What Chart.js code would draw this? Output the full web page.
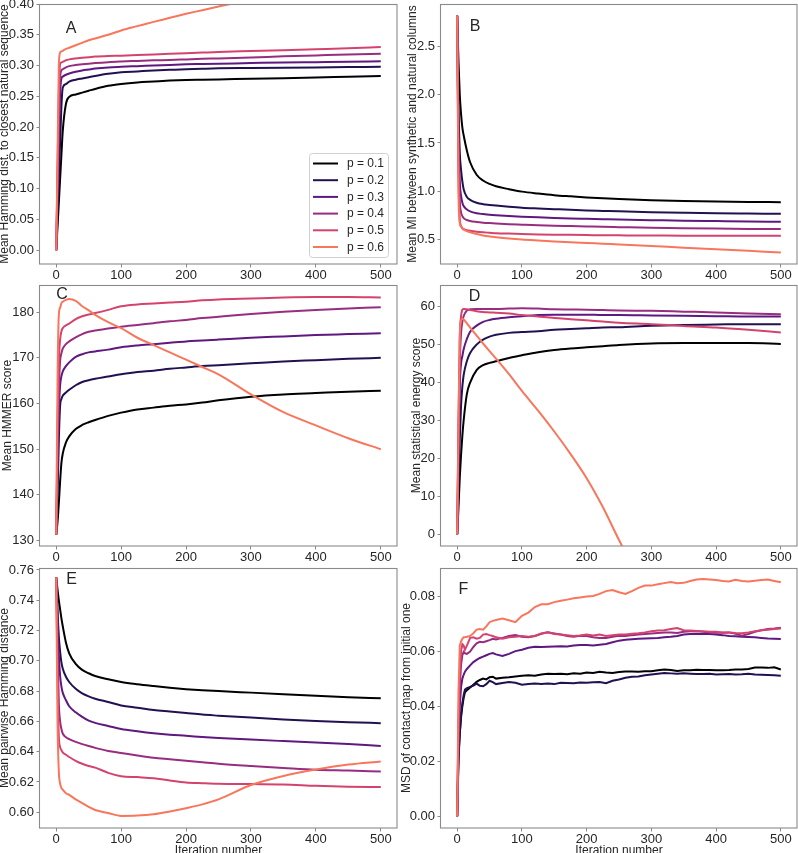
<!DOCTYPE html>
<html><head><meta charset="utf-8">
<script src="https://cdn.jsdelivr.net/npm/chart.js@4.4.0/dist/chart.umd.min.js"></script>
<style>
html,body{margin:0;padding:0;background:#fff;}
#wrap{position:relative;width:798px;height:853px;overflow:hidden;background:#fff;}
#wrap canvas{position:absolute;left:0;top:0;}
</style></head><body><div id="wrap"></div>
<script>
// ---------- data ----------
const seriesLabels = ['p = 0.1','p = 0.2','p = 0.3','p = 0.4','p = 0.5','p = 0.6'];
const xTicks = [0,100,200,300,400,500];
const iterations = [0,2,4,6,8,10,15,20,30,40,50,60,80,100,125,150,175,200,225,250,300,350,400,450,500];
const iterationsF = [0,2,4,6,8,10,12,15,20,25,30,35,40,45,50,55,60,70,80,90,100,110,120,130,140,150,160,170,180,190,200,210,220,230,240,250,260,270,280,290,300,310,320,330,340,350,360,370,380,390,400,410,420,430,440,450,460,470,480,490,500];

// A: mean Hamming distance to closest natural sequence
const hamA_p1 = [0,0.038,0.077,0.116,0.155,0.193,0.238,0.249,0.253,0.256,0.259,0.262,0.267,0.270,0.2725,0.274,0.2755,0.2765,0.277,0.2775,0.2785,0.2795,0.2805,0.2818,0.283];
const hamA_p2 = [0,0.058,0.117,0.175,0.234,0.264,0.270,0.274,0.277,0.279,0.281,0.283,0.2865,0.289,0.2905,0.292,0.293,0.294,0.2948,0.2955,0.296,0.2965,0.297,0.2975,0.298];
const hamA_p3 = [0,0.09,0.18,0.255,0.279,0.282,0.285,0.287,0.290,0.292,0.2935,0.295,0.297,0.298,0.299,0.300,0.301,0.302,0.3025,0.303,0.304,0.305,0.3055,0.306,0.307];
const hamA_p4 = [0,0.11,0.21,0.28,0.292,0.294,0.297,0.299,0.301,0.302,0.303,0.304,0.3055,0.3065,0.3075,0.3085,0.309,0.310,0.311,0.3115,0.313,0.315,0.3165,0.318,0.319];
const hamA_p5 = [0,0.13,0.25,0.303,0.305,0.306,0.3085,0.310,0.3115,0.3125,0.3135,0.3145,0.3155,0.316,0.317,0.318,0.319,0.320,0.321,0.322,0.3235,0.325,0.3265,0.328,0.330];
const hamA_p6 = [0,0.15,0.30,0.321,0.323,0.324,0.327,0.329,0.333,0.337,0.341,0.344,0.350,0.357,0.364,0.371,0.3775,0.384,0.390,0.396,0.407,0.418,0.429,0.44,0.45];

// B: mean MI between synthetic and natural columns
const miB_p1 = [2.82,2.35,2.0,1.80,1.66,1.58,1.42,1.30,1.17,1.11,1.075,1.05,1.02,0.995,0.975,0.958,0.946,0.935,0.926,0.918,0.906,0.898,0.892,0.888,0.885];
const miB_p2 = [2.82,1.9,1.40,1.22,1.10,1.02,0.94,0.91,0.88,0.865,0.857,0.85,0.838,0.828,0.82,0.813,0.806,0.80,0.795,0.79,0.782,0.776,0.771,0.768,0.765];
const miB_p3 = [2.82,1.6,1.1,0.95,0.88,0.845,0.81,0.79,0.77,0.762,0.755,0.75,0.742,0.735,0.728,0.722,0.717,0.713,0.709,0.705,0.699,0.693,0.689,0.685,0.682];
const miB_p4 = [2.82,1.4,0.9,0.78,0.74,0.72,0.70,0.69,0.68,0.673,0.668,0.664,0.657,0.652,0.646,0.641,0.637,0.633,0.629,0.626,0.62,0.615,0.611,0.608,0.606];
const miB_p5 = [2.82,1.2,0.72,0.64,0.615,0.605,0.595,0.588,0.578,0.572,0.568,0.564,0.559,0.555,0.551,0.548,0.546,0.544,0.542,0.541,0.539,0.538,0.537,0.536,0.536];
const miB_p6 = [2.82,1.0,0.67,0.63,0.612,0.60,0.585,0.573,0.555,0.54,0.53,0.522,0.508,0.497,0.487,0.478,0.47,0.462,0.454,0.446,0.430,0.413,0.397,0.38,0.363];

// C: mean HMMER score
const hmmC_p1 = [131.3,134,138.2,143,147,149,151.5,152.8,154.4,155.3,155.9,156.4,157.3,158.0,158.7,159.1,159.5,159.8,160.2,160.7,161.5,162.0,162.3,162.6,162.8];
const hmmC_p2 = [131.3,140,152,159.5,161,161.7,162.4,163,164,164.7,165.1,165.4,165.9,166.4,166.9,167.2,167.6,167.9,168.2,168.4,168.8,169.2,169.5,169.8,170.0];
const hmmC_p3 = [131.3,145,158,164,166,167,168.2,169,170.2,170.8,171.2,171.4,171.8,172.3,172.7,173.0,173.3,173.6,173.8,174.0,174.4,174.7,175.0,175.2,175.4];
const hmmC_p4 = [131.3,150,163,169.3,171,172,173,173.6,174.5,175.2,175.7,176.0,176.4,176.8,177.2,177.6,178.0,178.3,178.7,179.0,179.6,180.1,180.5,180.8,181.1];
const hmmC_p5 = [131.3,155,169,174,175.8,176.5,177.1,177.5,178.5,179.1,179.5,179.8,180.5,181.3,181.7,181.9,182.1,182.3,182.6,182.8,183.0,183.2,183.3,183.3,183.2];
const hmmC_p6 = [131.3,165,179.4,181,182,182.3,182.7,182.9,182.5,181.3,180.4,179.4,177.8,176.5,174.4,172.8,171.2,169.6,168.0,166.4,162.0,158.1,155.2,152.4,150.0];

// D: mean statistical energy score
const energyD_p1 = [0,7,15,21,26,30,37,40,43.3,44.6,45.2,45.6,46.5,47.2,48.0,48.6,49.0,49.3,49.6,49.9,50.3,50.4,50.4,50.4,50.2];
const energyD_p2 = [0,12,25,34,39,42,45.7,47.8,50,51.3,52.1,52.6,53.1,53.3,53.5,53.9,54.1,54.3,54.5,54.6,55.0,55.2,55.3,55.4,55.4];
const energyD_p3 = [0,18,39,45,47,48.8,51.5,53.4,55,56,56.5,56.8,57.2,57.5,57.8,57.9,57.9,57.9,57.8,57.8,57.7,57.6,57.5,57.4,57.4];
const energyD_p4 = [0,25,45,53,56,57.5,59,59.3,59.4,59.4,59.4,59.4,59.5,59.6,59.5,59.3,59.25,59.2,59.1,59.0,58.9,58.7,58.5,58.2,58.0];
const energyD_p5 = [0,30,52,57.5,59.2,59.4,59.3,59.1,58.8,58.6,58.5,58.4,58.2,57.8,57.4,57.0,56.7,56.4,56.1,55.8,55.4,54.9,54.5,53.9,53.2];
const energyD_p6 = [0,28,52,56.3,56.8,56.6,55.6,54.5,52.4,50.3,48.3,46.3,42.2,37.8,32.6,27.1,21.2,14.8,7.2,-1.5,-18,-36,-55,-74,-93];

// E: mean pairwise Hamming distance
const pairE_p1 = [0.755,0.747,0.740,0.734,0.728,0.723,0.712,0.705,0.698,0.694,0.6918,0.690,0.6878,0.686,0.6845,0.6833,0.6822,0.6813,0.6806,0.680,0.679,0.678,0.677,0.676,0.6753];
const pairE_p2 = [0.755,0.733,0.716,0.706,0.699,0.695,0.6895,0.686,0.6815,0.6785,0.6765,0.675,0.6728,0.6705,0.669,0.6675,0.6665,0.6655,0.6645,0.6638,0.6625,0.6613,0.6603,0.6595,0.6588];
const pairE_p3 = [0.755,0.73,0.704,0.69,0.683,0.679,0.674,0.670,0.666,0.663,0.6605,0.659,0.657,0.655,0.6535,0.6522,0.6512,0.6505,0.6497,0.649,0.648,0.647,0.646,0.645,0.6438];
const pairE_p4 = [0.755,0.71,0.672,0.66,0.655,0.652,0.6495,0.6483,0.6465,0.645,0.6437,0.6425,0.6405,0.6392,0.6375,0.636,0.635,0.634,0.633,0.632,0.6305,0.6292,0.628,0.6275,0.6269];
const pairE_p5 = [0.755,0.69,0.65,0.643,0.641,0.6395,0.638,0.6365,0.634,0.632,0.6305,0.6295,0.626,0.6238,0.6232,0.6225,0.621,0.6197,0.6192,0.6188,0.6186,0.6184,0.6175,0.6169,0.6166];
const pairE_p6 = [0.755,0.66,0.627,0.619,0.616,0.615,0.6125,0.6115,0.6085,0.606,0.6035,0.6015,0.5995,0.5976,0.5978,0.5987,0.6005,0.6027,0.6052,0.6085,0.6180,0.6240,0.6282,0.6315,0.6335];

// F: MSD of contact map from initial one
const msdF_p1 = [0,0.022,0.030,0.036,0.040,0.043,0.045,0.0458,0.0468,0.0478,0.0488,0.0495,0.0500,0.0497,0.0505,0.0507,0.0500,0.0503,0.0505,0.0508,0.0510,0.0512,0.0510,0.0515,0.0518,0.0517,0.0518,0.0516,0.0519,0.0518,0.0522,0.0520,0.0525,0.0522,0.0520,0.0524,0.0526,0.0526,0.0525,0.0527,0.0527,0.0530,0.0533,0.0531,0.0528,0.0530,0.0530,0.0532,0.0531,0.0531,0.0530,0.0530,0.0531,0.0533,0.0533,0.0535,0.0540,0.0540,0.0539,0.0541,0.0533];
const msdF_p2 = [0,0.020,0.030,0.037,0.041,0.044,0.046,0.0465,0.0470,0.0475,0.0482,0.0474,0.0472,0.0480,0.0492,0.0487,0.0480,0.0484,0.0488,0.0485,0.0478,0.0480,0.0482,0.0480,0.0482,0.0480,0.0485,0.0484,0.0483,0.0486,0.0485,0.0487,0.0488,0.0483,0.0492,0.0497,0.0503,0.0507,0.0508,0.0512,0.0515,0.0518,0.0520,0.0519,0.0518,0.0519,0.0518,0.0517,0.0517,0.0518,0.0515,0.0516,0.0517,0.0515,0.0516,0.0518,0.0515,0.0514,0.0513,0.0512,0.0510];
const msdF_p3 = [0,0.025,0.040,0.047,0.050,0.0514,0.0525,0.0535,0.0548,0.0560,0.0568,0.0575,0.0580,0.0585,0.0590,0.0593,0.0588,0.0582,0.0590,0.0600,0.0605,0.0612,0.0616,0.0615,0.0616,0.0617,0.0618,0.0617,0.0620,0.0622,0.0622,0.0620,0.0623,0.0626,0.0632,0.0638,0.0641,0.0643,0.0645,0.0646,0.0647,0.0648,0.0650,0.0652,0.0655,0.0660,0.0662,0.0663,0.0662,0.0662,0.0660,0.0658,0.0655,0.0654,0.0652,0.0651,0.0650,0.0648,0.0646,0.0645,0.0644];
const msdF_p4 = [0,0.030,0.047,0.055,0.0585,0.0597,0.0592,0.0590,0.0598,0.0615,0.0628,0.0634,0.0632,0.0636,0.0640,0.0645,0.0642,0.0648,0.0655,0.0658,0.0652,0.0650,0.0655,0.0663,0.0668,0.0664,0.0660,0.0655,0.0652,0.0656,0.0655,0.0650,0.0648,0.0648,0.0652,0.0656,0.0655,0.0658,0.0660,0.0662,0.0664,0.0666,0.0668,0.0668,0.0666,0.0670,0.0672,0.0673,0.0670,0.0668,0.0667,0.0667,0.0668,0.0663,0.0656,0.0662,0.0670,0.0676,0.0680,0.0682,0.0685];
const msdF_p5 = [0,0.035,0.052,0.060,0.0625,0.0620,0.0605,0.0620,0.0648,0.0650,0.0645,0.0648,0.0660,0.0662,0.0658,0.0655,0.0650,0.0645,0.0650,0.0652,0.0655,0.0652,0.0655,0.0664,0.0668,0.0662,0.0660,0.0658,0.0655,0.0657,0.0660,0.0657,0.0660,0.0655,0.0658,0.0660,0.0660,0.0663,0.0665,0.0668,0.0672,0.0675,0.0676,0.0680,0.0684,0.0676,0.0675,0.0673,0.0672,0.0670,0.0670,0.0668,0.0668,0.0666,0.0665,0.0668,0.0672,0.0676,0.0678,0.0680,0.0682];
const msdF_p6 = [0,0.045,0.062,0.0635,0.0645,0.0650,0.0650,0.0652,0.0655,0.0665,0.0678,0.0680,0.0678,0.0690,0.0705,0.0710,0.0713,0.0718,0.0712,0.0705,0.0728,0.0740,0.0760,0.0770,0.0770,0.0778,0.0783,0.0787,0.0792,0.0795,0.0798,0.0800,0.0808,0.0818,0.0822,0.0814,0.0808,0.0818,0.0830,0.0838,0.0838,0.0843,0.0847,0.0851,0.0847,0.0848,0.0855,0.0860,0.0862,0.0860,0.0858,0.0855,0.0853,0.0859,0.0855,0.0853,0.0856,0.0858,0.0860,0.0855,0.0850];

// tick labels
const yTicksA = [0,0.05,0.10,0.15,0.20,0.25,0.30,0.35,0.40];
const yTicksB = [0.5,1.0,1.5,2.0,2.5];
const yTicksC = [130,140,150,160,170,180];
const yTicksD = [0,10,20,30,40,50,60];
const yTicksE = [0.60,0.62,0.64,0.66,0.68,0.70,0.72,0.74,0.76];
const yTicksF = [0,0.02,0.04,0.06,0.08];

// ---------- styling / layout ----------
const seriesColors = ['#000004','#221150','#5f187f','#982d80','#d3436e','#f8765c'];
const FONT = '"Liberation Sans", Arial, Helvetica, sans-serif';
const TEXT = '#262626';
const SPINE = '#8a8a8a';
const TICK_FONT = 13;
Chart.defaults.font.family = FONT;
Chart.defaults.color = TEXT;

const panels = [
  {letter:'A', xs:iterations, series:[hamA_p1,hamA_p2,hamA_p3,hamA_p4,hamA_p5,hamA_p6], yTicks:yTicksA, dec:2, ymin:-0.0225, ymax:0.40,
   ylabel:'Mean Hamming dist. to closest natural sequence', smooth:true,
   box:{L:40,T:4,R:397,B:264}, yc:4.5, lx:31, ly:25, xTitle:false, legend:true},
  {letter:'B', xs:iterations, series:[miB_p1,miB_p2,miB_p3,miB_p4,miB_p5,miB_p6], yTicks:yTicksB, dec:1, ymin:0.2435, ymax:2.943,
   ylabel:'Mean MI between synthetic and natural columns', smooth:true,
   box:{L:441,T:4,R:797,B:264}, yc:412.5, lx:34, ly:23, xTitle:false, legend:false},
  {letter:'C', xs:iterations, series:[hmmC_p1,hmmC_p2,hmmC_p3,hmmC_p4,hmmC_p5,hmmC_p6], yTicks:yTicksC, dec:0, ymin:128.8, ymax:185.95,
   ylabel:'Mean HMMER score', smooth:true,
   box:{L:40,T:285,R:397,B:546}, yc:8, lx:22, ly:10, xTitle:false, legend:false},
  {letter:'D', xs:iterations, series:[energyD_p1,energyD_p2,energyD_p3,energyD_p4,energyD_p5,energyD_p6], yTicks:yTicksD, dec:0, ymin:-3.08, ymax:65.72,
   ylabel:'Mean statistical energy score', smooth:true,
   box:{L:441,T:285,R:797,B:546}, yc:417, lx:33.5, ly:12, xTitle:false, legend:false},
  {letter:'E', xs:iterations, series:[pairE_p1,pairE_p2,pairE_p3,pairE_p4,pairE_p5,pairE_p6], yTicks:yTicksE, dec:2, ymin:0.5896, ymax:0.7613,
   ylabel:'Mean pairwise Hamming distance', smooth:true,
   box:{L:40,T:568,R:397,B:828}, yc:4.5, lx:31.5, ly:12, xTitle:true, legend:false},
  {letter:'F', xs:iterationsF, series:[msdF_p1,msdF_p2,msdF_p3,msdF_p4,msdF_p5,msdF_p6], yTicks:yTicksF, dec:2, ymin:-0.0043, ymax:0.0902,
   ylabel:'MSD of contact map from initial one', smooth:false,
   box:{L:441,T:568,R:797,B:828}, yc:407, lx:22.5, ly:21.5, xTitle:true, legend:false}
];

const W = 798, H = 853;

const panelPlugin = {
  id: 'panelDecor',
  afterDatasetsDraw(chart, args, opts) {
    const ctx = chart.ctx, a = chart.chartArea;
    ctx.save();
    ctx.strokeStyle = SPINE; ctx.lineWidth = 1.1;
    ctx.strokeRect(a.left - 0.5, a.top + 0.5, a.right - a.left + 0.5, a.bottom - a.top - 0.5);
    ctx.fillStyle = TEXT;
    ctx.font = '16px ' + FONT;
    ctx.textAlign = 'center'; ctx.textBaseline = 'middle';
    ctx.fillText(opts.letter, a.left + opts.lx, a.top + opts.ly);
    if (opts.legend) {
      const bw = 79, bh = 104;
      const bx = a.right - 9 - bw, by = a.bottom - 7 - bh;
      ctx.fillStyle = 'rgba(255,255,255,0.85)';
      ctx.strokeStyle = '#d0d0d0'; ctx.lineWidth = 1;
      ctx.beginPath();
      if (ctx.roundRect) ctx.roundRect(bx + 0.5, by + 0.5, bw, bh, 3); else ctx.rect(bx + 0.5, by + 0.5, bw, bh);
      ctx.fill(); ctx.stroke();
      ctx.font = '12px ' + FONT;
      ctx.textAlign = 'left'; ctx.textBaseline = 'middle';
      chart.data.datasets.forEach((ds, i) => {
        const yy = by + 10.5 + i * 16.7;
        ctx.strokeStyle = ds.borderColor; ctx.lineWidth = 2;
        ctx.beginPath(); ctx.moveTo(bx + 4, yy); ctx.lineTo(bx + 29, yy); ctx.stroke();
        ctx.fillStyle = TEXT;
        ctx.fillText(ds.label, bx + 38, yy + 0.5);
      });
    }
    ctx.restore();
  }
};

const wrap = document.getElementById('wrap');
panels.forEach(p => {
  const cv = document.createElement('canvas');
  cv.width = W; cv.height = H;
  cv.style.width = W + 'px'; cv.style.height = H + 'px';
  wrap.appendChild(cv);
  const b = p.box;
  const xh = p.xTitle ? (H - b.B) : 20;
  const pl = Math.max(0, p.yc - 7.2);
  const tpad = p.yc - 7.2 - pl;
  const yw = b.L - pl;
  const datasets = p.series.map((s, i) => ({
    label: seriesLabels[i],
    data: p.xs.map((x, j) => ({x: x, y: s[j]})),
    borderColor: seriesColors[i],
    backgroundColor: seriesColors[i],
    borderWidth: 2,
    pointRadius: 0,
    fill: false,
    tension: 0,
    cubicInterpolationMode: p.smooth ? 'monotone' : 'default',
    order: 6 - i
  }));
  new Chart(cv, {
    type: 'line',
    data: {datasets},
    options: {
      responsive: false,
      animation: false,
      devicePixelRatio: 1,
      events: [],
      layout: {padding: {left: pl, top: b.T, right: W - b.R, bottom: H - b.B - xh}},
      plugins: {
        legend: {display: false},
        tooltip: {enabled: false},
        panelDecor: {letter: p.letter, lx: p.lx, ly: p.ly, legend: p.legend}
      },
      scales: {
        x: {
          type: 'linear', min: -25, max: 525,
          afterBuildTicks: s => { s.ticks = xTicks.map(v => ({value: v})); },
          afterFit: s => { s.height = xh; s.paddingLeft = 0; s.paddingRight = 0; s.paddingTop = 0; s.paddingBottom = 0; },
          grid: {display: true, drawOnChartArea: false, drawTicks: true, tickLength: 3.5, color: SPINE, tickColor: SPINE, tickWidth: 1},
          border: {display: false},
          ticks: {font: {size: TICK_FONT}, color: TEXT, padding: 0, maxRotation: 0, autoSkip: false, callback: v => String(Math.round(v))},
          title: {display: p.xTitle, text: 'Iteration number', font: {size: 12}, color: TEXT, padding: {top: 0, bottom: -4.5}}
        },
        y: {
          type: 'linear', min: p.ymin, max: p.ymax,
          afterBuildTicks: s => { s.ticks = p.yTicks.map(v => ({value: v})); },
          afterFit: s => { s.width = yw; s.paddingLeft = 0; s.paddingRight = 0; s.paddingTop = 0; s.paddingBottom = 0; },
          grid: {display: true, drawOnChartArea: false, drawTicks: true, tickLength: 3.5, color: SPINE, tickColor: SPINE, tickWidth: 1},
          border: {display: false},
          ticks: {font: {size: TICK_FONT}, color: TEXT, padding: 2.5, autoSkip: false, callback: v => Number(v).toFixed(p.dec)},
          title: {display: true, text: p.ylabel, font: {size: 12}, color: TEXT, padding: {top: tpad, bottom: 0}}
        }
      }
    },
    plugins: [panelPlugin]
  });
});
</script></body></html>
